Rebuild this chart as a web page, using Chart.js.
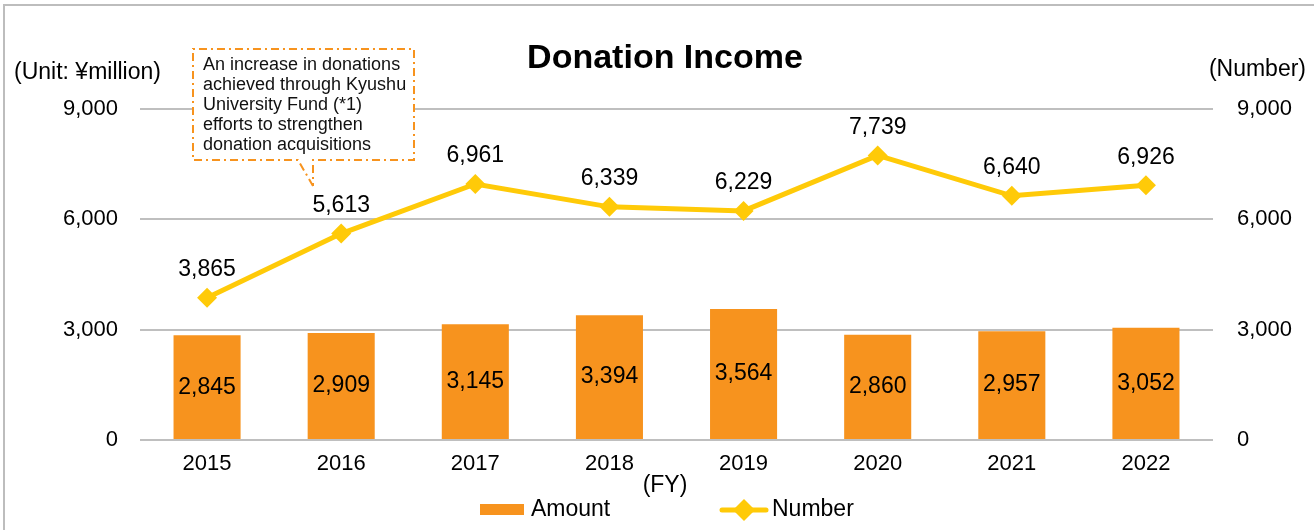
<!DOCTYPE html>
<html lang="en">
<head>
<meta charset="UTF-8">
<title>Donation Income</title>
<script src="https://cdn.jsdelivr.net/npm/chart.js"></script>
<style>
  html, body { margin: 0; padding: 0; background: #fff; }
  #wrap { width: 1314px; height: 530px; position: relative; }
</style>
</head>
<body>
<div id="wrap"><canvas id="chart" width="1314" height="530"></canvas></div>
<script>
// chart data
const years = ['2015', '2016', '2017', '2018', '2019', '2020', '2021', '2022'];
const amount = [2845, 2909, 3145, 3394, 3564, 2860, 2957, 3052];
const number = [3865, 5613, 6961, 6339, 6229, 7739, 6640, 6926];
const yTicks = [0, 3000, 6000, 9000];
const noteLines = ['An increase in donations', 'achieved through Kyushu', 'University Fund (*1)', 'efforts to strengthen', 'donation acquisitions'];

const FONT = '"Liberation Sans", Arial, sans-serif';
const ORANGE = '#F7931E';
const YELLOW = '#FFCA08';
const fmt = v => v.toLocaleString('en-US');

// everything Chart.js has no built-in for: labels, title, legend, callout
const extras = {
  id: 'extras',
  afterDraw(chart) {
    const ctx = chart.ctx;
    ctx.save();

    // frame
    ctx.strokeStyle = '#BDBDBD';
    ctx.lineWidth = 2;
    ctx.beginPath();
    ctx.moveTo(4, 530); ctx.lineTo(4, 5); ctx.lineTo(1314, 5);
    ctx.stroke();

    ctx.fillStyle = '#000';
    ctx.textBaseline = 'middle';

    // value labels
    ctx.font = '23px ' + FONT;
    ctx.textAlign = 'center';
    const barMeta = chart.data.datasets.findIndex(d => d.type === 'bar');
    const lineMeta = chart.data.datasets.findIndex(d => d.type === 'line');
    chart.getDatasetMeta(barMeta).data.forEach((bar, i) => {
      ctx.fillText(fmt(amount[i]), bar.x, (bar.y + bar.base) / 2);
    });
    chart.getDatasetMeta(lineMeta).data.forEach((pt, i) => {
      ctx.fillText(fmt(number[i]), pt.x, pt.y - 28);
    });

    // title and axis captions
    ctx.font = 'bold 34px ' + FONT;
    ctx.fillText('Donation Income', 665, 59);
    ctx.font = '23px ' + FONT;
    ctx.textAlign = 'left';
    ctx.fillText('(Unit: ¥million)', 14, 73);
    ctx.textAlign = 'right';
    ctx.fillText('(Number)', 1306, 70);
    ctx.textAlign = 'center';
    ctx.fillText('(FY)', 665, 486);

    // legend
    ctx.fillStyle = ORANGE;
    ctx.fillRect(480, 504, 44, 11);
    ctx.fillStyle = '#000';
    ctx.textAlign = 'left';
    ctx.fillText('Amount', 531, 510);
    ctx.strokeStyle = YELLOW;
    ctx.lineWidth = 5;
    ctx.lineCap = 'round';
    ctx.beginPath(); ctx.moveTo(722, 510); ctx.lineTo(766, 510); ctx.stroke();
    ctx.fillStyle = YELLOW;
    ctx.beginPath();
    ctx.moveTo(744, 499); ctx.lineTo(755, 510); ctx.lineTo(744, 521); ctx.lineTo(733, 510);
    ctx.closePath(); ctx.fill();
    ctx.fillStyle = '#000';
    ctx.fillText('Number', 772, 510);

    // callout box
    ctx.fillStyle = '#fff';
    ctx.fillRect(193, 49, 221, 111);
    ctx.strokeStyle = ORANGE;
    ctx.lineWidth = 2;
    ctx.lineCap = 'butt';
    ctx.setLineDash([8, 4, 2, 4]);
    ctx.beginPath();
    ctx.moveTo(313, 186); ctx.lineTo(298, 160); ctx.lineTo(193, 160);
    ctx.lineTo(193, 49); ctx.lineTo(414, 49); ctx.lineTo(414, 160);
    ctx.lineTo(313, 160); ctx.lineTo(313, 186);
    ctx.stroke();
    ctx.setLineDash([]);
    ctx.fillStyle = '#111';
    ctx.font = '18px ' + FONT;
    ctx.textAlign = 'left';
    noteLines.forEach((t, i) => ctx.fillText(t, 203, 65 + i * 20));

    ctx.restore();
  }
};

new Chart(document.getElementById('chart'), {
  data: {
    labels: years,
    datasets: [
      {
        type: 'line',
        label: 'Number',
        data: number,
        yAxisID: 'yR',
        borderColor: YELLOW,
        backgroundColor: YELLOW,
        borderWidth: 5,
        pointStyle: 'rectRot',
        pointRadius: 10,
        pointHoverRadius: 10,
        pointBorderWidth: 0,
        tension: 0,
        order: 0
      },
      {
        type: 'bar',
        label: 'Amount',
        data: amount,
        yAxisID: 'y',
        backgroundColor: ORANGE,
        barPercentage: 0.5,
        categoryPercentage: 1,
        order: 1
      }
    ]
  },
  plugins: [extras],
  options: {
    responsive: false,
    animation: false,
    events: [],
    layout: { padding: { top: 109, left: 0, right: 0, bottom: 0 } },
    plugins: { legend: { display: false }, title: { display: false }, tooltip: { enabled: false } },
    scales: {
      x: {
        grid: { display: false },
        border: { display: false },
        ticks: { color: '#000', font: { family: FONT, size: 22 }, padding: 3 },
        afterFit: s => { s.height = 90; }
      },
      y: {
        position: 'left',
        min: 0, max: 9000,
        afterBuildTicks: s => { s.ticks = yTicks.map(v => ({ value: v })); },
        grid: { color: '#BFBFBF', lineWidth: 2, drawTicks: false },
        border: { display: false },
        ticks: { color: '#000', font: { family: FONT, size: 22 }, padding: 22, callback: v => fmt(v) },
        afterFit: s => { s.width = 140; }
      },
      yR: {
        position: 'right',
        min: 0, max: 9000,
        afterBuildTicks: s => { s.ticks = yTicks.map(v => ({ value: v })); },
        grid: { display: false },
        border: { display: false },
        ticks: { color: '#000', font: { family: FONT, size: 22 }, padding: 16, callback: v => fmt(v) },
        afterFit: s => { s.width = 101; }
      }
    }
  }
});
</script>
</body>
</html>
